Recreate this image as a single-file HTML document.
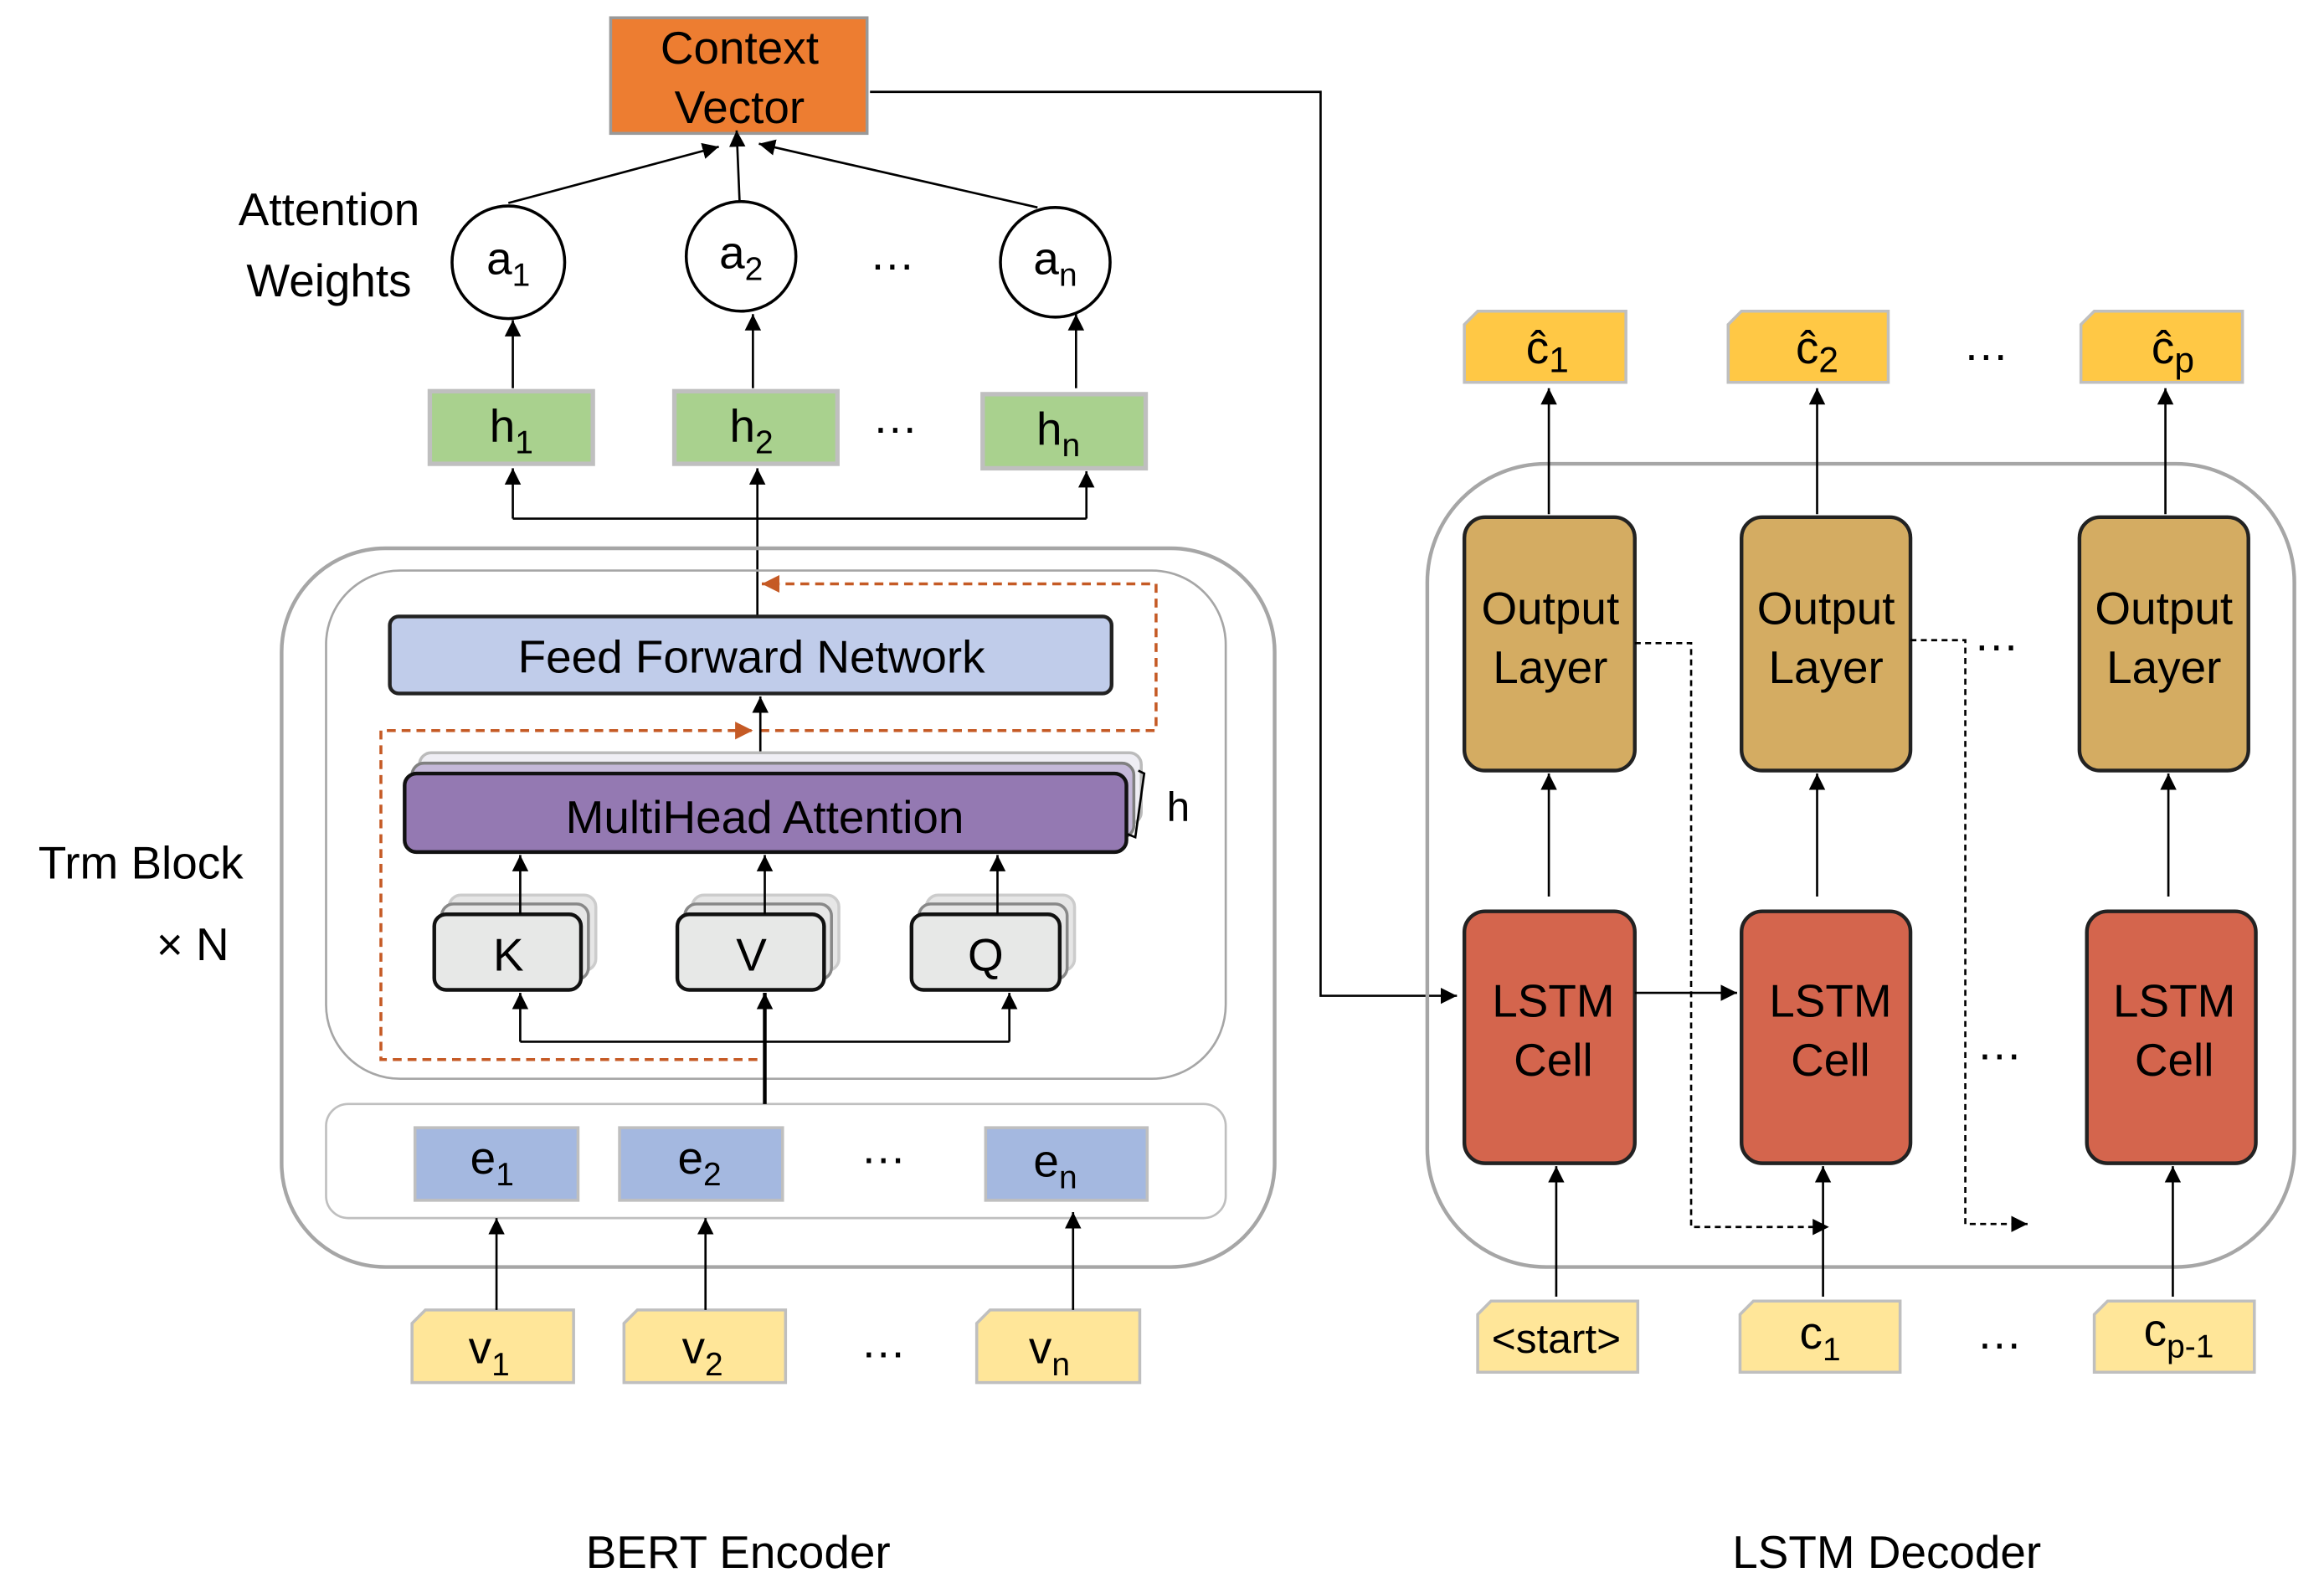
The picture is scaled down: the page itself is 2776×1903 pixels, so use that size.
<!DOCTYPE html>
<html><head><meta charset="utf-8"><style>html,body{margin:0;padding:0;background:#fff}svg{display:block}text{font-family:"Liberation Sans",sans-serif;fill:#000}</style></head>
<body>
<svg width="2776" height="1903" viewBox="0 0 1568 1075" preserveAspectRatio="none" xmlns="http://www.w3.org/2000/svg">
<defs>
<marker id="a" viewBox="0 0 10 10" refX="10" refY="5" markerWidth="11" markerHeight="12" markerUnits="userSpaceOnUse" orient="auto"><path d="M0,0L10,5L0,10z" fill="#000"/></marker>
<marker id="o" viewBox="0 0 10 10" refX="10" refY="5" markerWidth="12" markerHeight="12" markerUnits="userSpaceOnUse" orient="auto"><path d="M0,0L10,5L0,10z" fill="#C55A25"/></marker>
</defs>
<g font-size="31" text-anchor="middle">
<rect x="412" y="12" width="173" height="78" fill="#ED7D31" stroke="#999" stroke-width="2"/>
<text x="499" y="43">Context</text><text x="499" y="83">Vector</text>
<polyline points="587,62 891,62 891,672 983,672" fill="none" stroke="#000" stroke-width="1.5" marker-end="url(#a)"/>
<text x="222" y="152">Attention</text><text x="222" y="200">Weights</text>
<g fill="#fff" stroke="#000" stroke-width="2">
<circle cx="343" cy="177" r="38"/><circle cx="500" cy="173" r="37"/><circle cx="712" cy="177" r="37"/></g>
<text x="343" y="185">a<tspan font-size="22" dy="8">1</tspan></text>
<text x="500" y="181">a<tspan font-size="22" dy="8">2</tspan></text>
<text x="712" y="185">a<tspan font-size="22" dy="8">n</tspan></text>
<text x="602" y="182">…</text>
<g stroke="#000" stroke-width="1.5" fill="none" marker-end="url(#a)">
<line x1="343" y1="137" x2="485" y2="99"/><line x1="499" y1="136" x2="497" y2="88"/><line x1="700" y1="140" x2="512" y2="97"/>
<line x1="346" y1="262" x2="346" y2="216"/><line x1="508" y1="262" x2="508" y2="212"/><line x1="726" y1="262" x2="726" y2="212"/>
</g>
<g fill="#A9D18E" stroke="#BFBFBF" stroke-width="3">
<rect x="290" y="264" width="110" height="49"/><rect x="455" y="264" width="110" height="49"/><rect x="663" y="266" width="110" height="50"/></g>
<text x="345" y="298">h<tspan font-size="22" dy="8">1</tspan></text>
<text x="507" y="298">h<tspan font-size="22" dy="8">2</tspan></text>
<text x="714" y="300">h<tspan font-size="22" dy="8">n</tspan></text>
<text x="604" y="292">…</text>
<g stroke="#000" stroke-width="1.5" fill="none">
<line x1="511" y1="443" x2="511" y2="350"/>
<polyline points="346,350 733,350"/>
<line x1="346" y1="350" x2="346" y2="316" marker-end="url(#a)"/>
<line x1="511" y1="350" x2="511" y2="316" marker-end="url(#a)"/>
<line x1="733" y1="350" x2="733" y2="318" marker-end="url(#a)"/>
</g>
<rect x="190" y="370" width="670" height="485" rx="70" fill="none" stroke="#A6A6A6" stroke-width="2.5"/>
<rect x="220" y="385" width="607" height="343" rx="50" fill="none" stroke="#A6A6A6" stroke-width="1.5"/>
<rect x="220" y="745" width="607" height="77" rx="15" fill="none" stroke="#BFBFBF" stroke-width="1.5"/>
<rect x="263" y="416" width="487" height="52" rx="6" fill="#C0CCEA" stroke="#222" stroke-width="2.5"/>
<text x="507" y="454">Feed Forward Network</text>
<g stroke="#C55A25" stroke-width="2" stroke-dasharray="6,4" fill="none">
<polyline points="511,715 257,715 257,493 508,493" marker-end="url(#o)"/>
<polyline points="513,493 780,493 780,394 514,394" marker-end="url(#o)"/>
</g>
<line x1="513" y1="508" x2="513" y2="470" stroke="#000" stroke-width="1.5" marker-end="url(#a)"/>
<rect x="283" y="508" width="487" height="48" rx="8" fill="#EFEEF4" stroke="#BBB" stroke-width="2"/>
<rect x="278" y="515" width="487" height="50" rx="8" fill="#C4B8D8" stroke="#808080" stroke-width="2"/>
<rect x="273" y="522" width="487" height="53" rx="8" fill="#9479B2" stroke="#111" stroke-width="2.5"/>
<text x="516" y="562">MultiHead Attention</text>
<path d="M768,520 L772,522 L766,565 L761,563" fill="none" stroke="#000" stroke-width="1.5"/>
<text x="795" y="554" font-size="28">h</text>
<g stroke-width="2">
<rect x="303" y="604" width="99" height="51" rx="8" fill="#E6E6E6" stroke="#CCC"/>
<rect x="298" y="610" width="99" height="51" rx="8" fill="#E6E6E6" stroke="#888"/>
<rect x="293" y="617" width="99" height="51" rx="8" fill="#E7E8E7" stroke="#111" stroke-width="2.5"/>
<rect x="467" y="604" width="99" height="51" rx="8" fill="#E6E6E6" stroke="#CCC"/>
<rect x="462" y="610" width="99" height="51" rx="8" fill="#E6E6E6" stroke="#888"/>
<rect x="457" y="617" width="99" height="51" rx="8" fill="#E7E8E7" stroke="#111" stroke-width="2.5"/>
<rect x="625" y="604" width="100" height="51" rx="8" fill="#E6E6E6" stroke="#CCC"/>
<rect x="620" y="610" width="100" height="51" rx="8" fill="#E6E6E6" stroke="#888"/>
<rect x="615" y="617" width="100" height="51" rx="8" fill="#E7E8E7" stroke="#111" stroke-width="2.5"/>
</g>
<text x="343" y="655">K</text><text x="507" y="655">V</text><text x="665" y="655">Q</text>
<g stroke="#000" stroke-width="1.5" fill="none">
<line x1="351" y1="617" x2="351" y2="577" marker-end="url(#a)"/>
<line x1="516" y1="617" x2="516" y2="577" marker-end="url(#a)"/>
<line x1="673" y1="617" x2="673" y2="577" marker-end="url(#a)"/>
<line x1="516" y1="745" x2="516" y2="670" stroke-width="2.5" marker-end="url(#a)"/>
<polyline points="351,703 681,703"/>
<line x1="351" y1="703" x2="351" y2="670" marker-end="url(#a)"/>
<line x1="681" y1="703" x2="681" y2="670" marker-end="url(#a)"/>
</g>
<g fill="#A4B8E0" stroke="#BFBFBF" stroke-width="2">
<rect x="280" y="761" width="110" height="49"/><rect x="418" y="761" width="110" height="49"/><rect x="665" y="761" width="109" height="49"/></g>
<text x="332" y="792">e<tspan font-size="22" dy="8">1</tspan></text>
<text x="472" y="792">e<tspan font-size="22" dy="8">2</tspan></text>
<text x="712" y="794">e<tspan font-size="22" dy="8">n</tspan></text>
<text x="596" y="785">…</text>
<g fill="#FFE699" stroke="#BFBFBF" stroke-width="2">
<path d="M287,884H387V933H278V893Z"/><path d="M430,884H530V933H421V893Z"/><path d="M668,884H769V933H659V893Z"/></g>
<text x="330" y="920">v<tspan font-size="22" dy="8">1</tspan></text>
<text x="474" y="920">v<tspan font-size="22" dy="8">2</tspan></text>
<text x="708" y="920">v<tspan font-size="22" dy="8">n</tspan></text>
<text x="596" y="916">…</text>
<g stroke="#000" stroke-width="1.5" marker-end="url(#a)">
<line x1="335" y1="884" x2="335" y2="822"/><line x1="476" y1="884" x2="476" y2="822"/><line x1="724" y1="884" x2="724" y2="818"/></g>
<text x="95" y="593">Trm Block</text><text x="130" y="648">× N</text>
<text x="498" y="1058">BERT Encoder</text><text x="1273" y="1058">LSTM Decoder</text>
<rect x="963" y="313" width="585" height="542" rx="80" fill="none" stroke="#A6A6A6" stroke-width="2.5"/>
<g fill="#D4AC62" stroke="#222" stroke-width="2.5">
<rect x="988" y="349" width="115" height="171" rx="14"/><rect x="1175" y="349" width="114" height="171" rx="14"/><rect x="1403" y="349" width="114" height="171" rx="14"/></g>
<text x="1046" y="421">Output</text><text x="1046" y="461">Layer</text>
<text x="1232" y="421">Output</text><text x="1232" y="461">Layer</text>
<text x="1460" y="421">Output</text><text x="1460" y="461">Layer</text>
<g fill="#D4654D" stroke="#222" stroke-width="2.5">
<rect x="988" y="615" width="115" height="170" rx="14"/><rect x="1175" y="615" width="114" height="170" rx="14"/><rect x="1408" y="615" width="114" height="170" rx="14"/></g>
<text x="1048" y="686">LSTM</text><text x="1048" y="726">Cell</text>
<text x="1235" y="686">LSTM</text><text x="1235" y="726">Cell</text>
<text x="1467" y="686">LSTM</text><text x="1467" y="726">Cell</text>
<g fill="#FFC845" stroke="#BFBFBF" stroke-width="2">
<path d="M997,210H1097V258H988V219Z"/><path d="M1175,210H1274V258H1166V219Z"/><path d="M1413,210H1513V258H1404V219Z"/></g>
<text x="1044" y="245">ĉ<tspan font-size="24" dy="6">1</tspan></text>
<text x="1226" y="245">ĉ<tspan font-size="24" dy="6">2</tspan></text>
<text x="1466" y="245">ĉ<tspan font-size="24" dy="6">p</tspan></text>
<text x="1340" y="243">…</text>
<g fill="#FFE699" stroke="#BFBFBF" stroke-width="2">
<path d="M1006,878H1105V926H997V887Z"/><path d="M1183,878H1282V926H1174V887Z"/><path d="M1422,878H1521V926H1413V887Z"/></g>
<text x="1050" y="913" font-size="28">&lt;start&gt;</text>
<text x="1228" y="910">c<tspan font-size="22" dy="8">1</tspan></text>
<text x="1470" y="908">c<tspan font-size="22" dy="8">p-1</tspan></text>
<text x="1349" y="910">…</text><text x="1349" y="715">…</text><text x="1347" y="439">…</text>
<g stroke="#000" stroke-width="1.5" fill="none">
<line x1="1045" y1="347" x2="1045" y2="262" marker-end="url(#a)"/>
<line x1="1226" y1="347" x2="1226" y2="262" marker-end="url(#a)"/>
<line x1="1461" y1="347" x2="1461" y2="262" marker-end="url(#a)"/>
<line x1="1045" y1="605" x2="1045" y2="522" marker-end="url(#a)"/>
<line x1="1226" y1="605" x2="1226" y2="522" marker-end="url(#a)"/>
<line x1="1463" y1="605" x2="1463" y2="522" marker-end="url(#a)"/>
<line x1="1103" y1="670" x2="1172" y2="670" marker-end="url(#a)"/>
<line x1="1050" y1="875" x2="1050" y2="787" marker-end="url(#a)"/>
<line x1="1230" y1="875" x2="1230" y2="787" marker-end="url(#a)"/>
<line x1="1466" y1="875" x2="1466" y2="787" marker-end="url(#a)"/>
<polyline points="1103,434 1141,434 1141,828 1234,828" stroke-dasharray="4,3" marker-end="url(#a)"/>
<polyline points="1289,432 1326,432 1326,826 1368,826" stroke-dasharray="4,3" marker-end="url(#a)"/>
</g>
</g>
</svg>
</body></html>
